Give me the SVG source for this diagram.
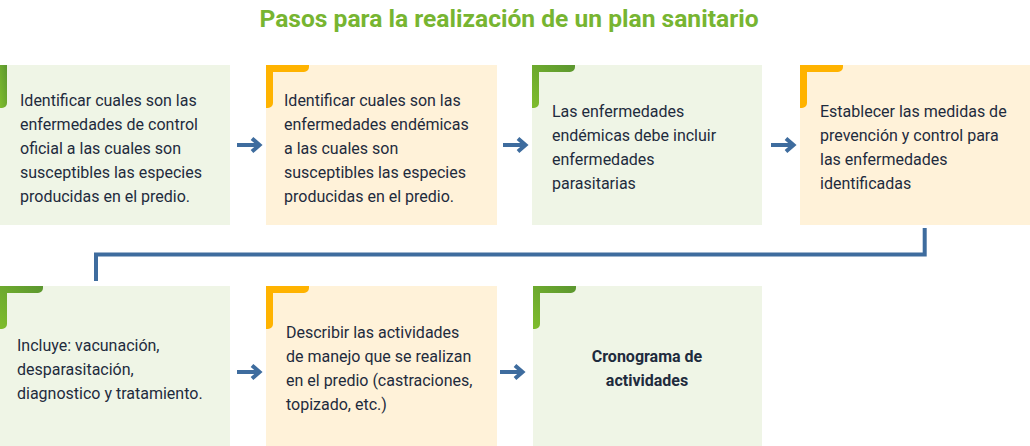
<svg xmlns="http://www.w3.org/2000/svg" width="1030" height="446" viewBox="0 0 1030 446">
<defs>
<linearGradient id="gg" x1="0" y1="1" x2="1" y2="0">
<stop offset="0" stop-color="#7fbd2d"/>
<stop offset="1" stop-color="#5b962f"/>
</linearGradient>
<path id="acc" d="M0 0 H43 V2 A5 5 0 0 1 38 7 H7 V38 A5 5 0 0 1 2 43 H0 Z"/>
</defs>
<style>
.g{fill:#eff5e6}
.y{fill:#fff2d9}
.ag{fill:url(#gg)}
.ay{fill:#ffb300}
.t{font-family:Roboto,"Liberation Sans",sans-serif;font-size:16px;fill:#1e2b3d}
.b{font-weight:bold;text-anchor:middle}
.title{font-family:Roboto,"Liberation Sans",sans-serif;font-size:24.6px;font-weight:bold;fill:#77b531;text-anchor:middle}
.ar{fill:none;stroke:#3e6c9e;stroke-width:4}
</style>
<text class="title" x="509" y="26.5">Pasos para la realización de un plan sanitario</text>

<g id="n1">
<rect class="g" x="0" y="65" width="230" height="160"/>
<path class="ag" d="M0 65 H7 V103 A5 5 0 0 1 2 108 H0 Z"/>
<text class="t" x="20" y="106">Identificar cuales son las</text>
<text class="t" x="20" y="130">enfermedades de control</text>
<text class="t" x="20" y="154">oficial a las cuales son</text>
<text class="t" x="20" y="178">susceptibles las especies</text>
<text class="t" x="20" y="202">producidas en el predio.</text>
</g>
<g id="n2">
<rect class="y" x="266" y="65" width="231" height="160"/>
<use href="#acc" class="ay" x="266" y="65"/>
<text class="t" x="284" y="106">Identificar cuales son las</text>
<text class="t" x="284" y="130">enfermedades endémicas</text>
<text class="t" x="284" y="154">a las cuales son</text>
<text class="t" x="284" y="178">susceptibles las especies</text>
<text class="t" x="284" y="202">producidas en el predio.</text>
</g>
<g id="n3">
<rect class="g" x="532" y="65" width="230" height="160"/>
<use href="#acc" class="ag" x="532" y="65"/>
<text class="t" x="552" y="117">Las enfermedades</text>
<text class="t" x="552" y="141">endémicas debe incluir</text>
<text class="t" x="552" y="165">enfermedades</text>
<text class="t" x="552" y="189">parasitarias</text>
</g>
<g id="n4">
<rect class="y" x="800" y="65" width="230" height="160"/>
<use href="#acc" class="ay" x="800" y="65"/>
<text class="t" x="820" y="117">Establecer las medidas de</text>
<text class="t" x="820" y="141">prevención y control para</text>
<text class="t" x="820" y="165">las enfermedades</text>
<text class="t" x="820" y="189">identificadas</text>
</g>
<g id="n5">
<rect class="g" x="0" y="286" width="230" height="160"/>
<use href="#acc" class="ag" x="0" y="286"/>
<text class="t" x="17" y="351">Incluye: vacunación,</text>
<text class="t" x="17" y="375">desparasitación,</text>
<text class="t" x="17" y="399">diagnostico y tratamiento.</text>
</g>
<g id="n6">
<rect class="y" x="266" y="286" width="231" height="160"/>
<use href="#acc" class="ay" x="266" y="286"/>
<text class="t" x="286" y="338">Describir las actividades</text>
<text class="t" x="286" y="362">de manejo que se realizan</text>
<text class="t" x="286" y="386">en el predio (castraciones,</text>
<text class="t" x="286" y="410">topizado, etc.)</text>
</g>
<g id="n7">
<rect class="g" x="533" y="286" width="229" height="160"/>
<use href="#acc" class="ag" x="533" y="286"/>
<text class="t b" x="647" y="362">Cronograma de</text>
<text class="t b" x="647" y="386">actividades</text>
</g>

<g id="connectors">
<path class="ar" d="M237 145 H259 M252 138.5 L259.5 145 L252 151.5"/>
<path class="ar" d="M503 145 H525 M518 138.5 L525.5 145 L518 151.5"/>
<path class="ar" d="M771 145 H793 M786 138.5 L793.5 145 L786 151.5"/>
<path class="ar" d="M924.7 228 V254.5 H96 V281"/>
<path class="ar" d="M237 372 H259 M252 365.5 L259.5 372 L252 378.5"/>
<path class="ar" d="M500 372 H522 M515 365.5 L522.5 372 L515 378.5"/>
</g>
</svg>
